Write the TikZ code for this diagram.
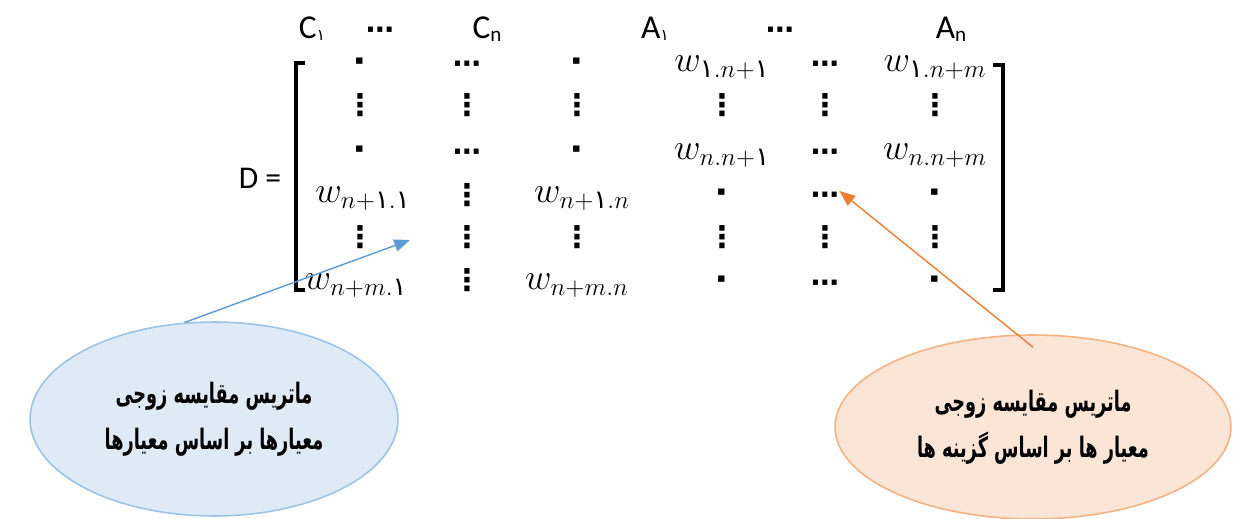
\documentclass[tikz,border=0pt]{standalone}
\usepackage{amsmath}
\usepackage{fontspec}
\setmainfont{Carlito}
\newfontfamily\arabicfont[Script=Arabic]{DejaVu Sans}
\newfontfamily\arabicnarrow[Script=Arabic,FakeStretch=0.63]{DejaVu Sans}
\newfontfamily\symfont{DejaVu Sans}
\TeXXeTstate=1
\usetikzlibrary{arrows.meta,shapes.geometric}
\definecolor{blline}{HTML}{5B9BD5}
\definecolor{blfill}{HTML}{DEEBF7}
\definecolor{bledge}{HTML}{9DC3E6}
\definecolor{orline}{HTML}{ED7D31}
\definecolor{orfill}{HTML}{FBE5D6}
\definecolor{oredge}{HTML}{F4B183}
\newcommand{\ayk}{\text{\arabicfont ١}}
\newcommand{\zr}{{\arabicfont\bfseries ٠}}
\newcommand{\hd}{{\symfont\bfseries\fontsize{16}{16}\selectfont ⋯}}
\newcommand{\vd}{{\symfont\bfseries\fontsize{17}{17}\selectfont ⋮}}
\newcommand{\hsub}[1]{\raisebox{-1.2pt}{\fontsize{12}{12}\selectfont #1}}
\newcommand{\hone}{\raisebox{-0.8pt}{\arabicfont\fontsize{9}{9}\selectfont ١}}
\tikzset{
  ent/.style={inner sep=0pt, anchor=base, font=\fontsize{21}{24}\selectfont},
  vdn/.style={inner sep=0pt, anchor=center},
  hdn/.style={inner sep=0pt, anchor=center},
  hdr/.style={inner sep=0pt, anchor=base, font=\fontsize{19}{22}\selectfont},
  brk/.style={line width=1.8pt},
  bubble/.style={shape=ellipse, inner sep=0pt, align=center, line width=0.9pt,
     font=\arabicnarrow\bfseries\fontsize{16}{26}\selectfont},
  conn/.style={line width=0.8pt, -{Triangle[length=9pt,width=7pt]}}
}
\begin{document}
\begin{tikzpicture}[x=0.02cm, y=-0.02cm]
\path[use as bounding box] (0,0) rectangle (1233,519);
% header
\node[hdr] (h1) at (312,39) {C\hone};
\node[hdn] (h2) at (380,33) {\hd};
\node[hdr] (h3) at (487,39) {C\hsub{n}};
\node[hdr] (h4) at (655,39) {A\hone};
\node[hdn] (h5) at (780,33) {\hd};
\node[hdr] (h6) at (951,39) {A\hsub{n}};
% D =
\node[inner sep=0pt, font=\fontsize{18}{20}\selectfont] (D) at (260,178) {D =};
% brackets
\draw[brk] (305,63) -- (296,63) -- (296,290) -- (305,290);
\draw[brk] (993,65) -- (1003,65) -- (1003,290) -- (993,290);
% row 1
\node[ent] (m11) at (360,72) {\zr};
\node[hdn] (m12) at (467,67) {\hd};
\node[ent] (m13) at (577,72) {\zr};
\node[ent] (m14) at (722,72) {$w_{\ayk.n+\ayk}$};
\node[hdn] (m15) at (825,67) {\hd};
\node[ent] (m16) at (935,72) {$w_{\ayk.n+m}$};
% row 2
\node[vdn] (m21) at (360,105) {\vd};
\node[vdn] (m22) at (467,105) {\vd};
\node[vdn] (m23) at (577,105) {\vd};
\node[vdn] (m24) at (722,105) {\vd};
\node[vdn] (m25) at (825,105) {\vd};
\node[vdn] (m26) at (935,105) {\vd};
% row 3
\node[ent] (m31) at (360,160) {\zr};
\node[hdn] (m32) at (467,155) {\hd};
\node[ent] (m33) at (577,160) {\zr};
\node[ent] (m34) at (722,160) {$w_{n.n+\ayk}$};
\node[hdn] (m35) at (825,155) {\hd};
\node[ent] (m36) at (935,160) {$w_{n.n+m}$};
% row 4
\node[ent] (m41) at (363,203) {$w_{n+\ayk.\ayk}$};
\node[vdn] (m42) at (467,195) {\vd};
\node[ent] (m43) at (582,203) {$w_{n+\ayk.n}$};
\node[ent] (m44) at (722,203) {\zr};
\node[hdn] (m45) at (825,198) {\hd};
\node[ent] (m46) at (935,203) {\zr};
% row 5
\node[vdn] (m51) at (360,237) {\vd};
\node[vdn] (m52) at (467,237) {\vd};
\node[vdn] (m53) at (577,237) {\vd};
\node[vdn] (m54) at (722,237) {\vd};
\node[vdn] (m55) at (825,237) {\vd};
\node[vdn] (m56) at (935,237) {\vd};
% row 6
\node[ent] (m61) at (356,290) {$w_{n+m.\ayk}$};
\node[vdn] (m62) at (467,280) {\vd};
\node[ent] (m63) at (577,290) {$w_{n+m.n}$};
\node[ent] (m64) at (722,290) {\zr};
\node[hdn] (m65) at (825,286) {\hd};
\node[ent] (m66) at (935,290) {\zr};
% bubbles
\node[bubble, draw=bledge, fill=blfill, minimum width=7.36cm, minimum height=3.88cm] (bl) at (214,419)
  {\beginR ماتریس مقایسه زوجی\endR\\\beginR معیارها بر اساس معیارها\endR};
\node[bubble, draw=oredge, fill=orfill, minimum width=7.92cm, minimum height=3.68cm] (or) at (1033,427)
  {\beginR ماتریس مقایسه زوجی\endR\\\beginR معیار ها بر اساس گزینه ها\endR};
% connectors
\coordinate (bt) at (410,240);
\draw[conn, draw=blline, fill=blline] (bl.107) -- (bt);
\draw[conn, draw=orline, fill=orline] ([yshift=-0.26cm]or.north) -- ([yshift=4pt]m45.east);
\end{tikzpicture}
\end{document}
